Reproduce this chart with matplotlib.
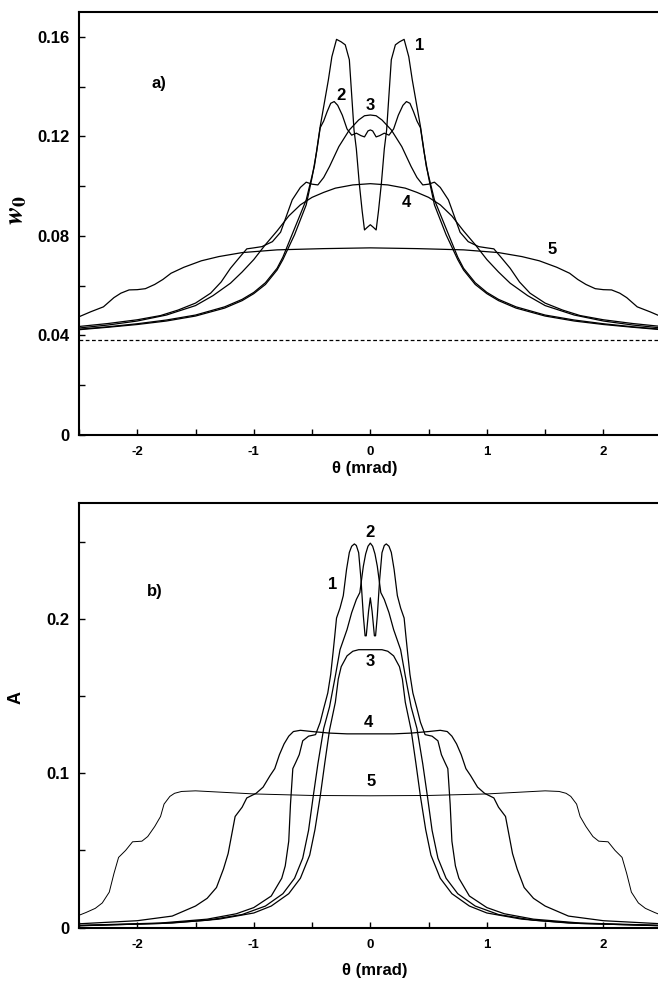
import matplotlib.pyplot as plt
from matplotlib.ticker import FuncFormatter, MultipleLocator

plt.rcParams["font.family"] = ["Liberation Sans", "DejaVu Sans"]
plt.rcParams["font.weight"] = "bold"
plt.rcParams["mathtext.fontset"] = "stix"
plt.rcParams["axes.unicode_minus"] = False

# panel a) : w0 versus theta (mrad)
theta_a1 = [-2.50, -2.25, -2.00, -1.75, -1.50, -1.25, -1.10, -1.00, -0.90, -0.80, -0.75, -0.65, -0.55, -0.48,
            -0.43, -0.40, -0.36, -0.33, -0.29, -0.25, -0.215, -0.18, -0.14, -0.12, -0.095, -0.07, -0.05, -0.025,
            0.0, 0.025, 0.05, 0.07, 0.095, 0.12, 0.14, 0.18, 0.215, 0.25, 0.29, 0.33, 0.36, 0.40, 0.43, 0.48,
            0.55, 0.65, 0.75, 0.80, 0.90, 1.00, 1.10, 1.25, 1.50, 1.75, 2.00, 2.25, 2.50]
w_a1 = [0.0425, 0.0435, 0.0447, 0.0462, 0.0482, 0.0515, 0.0545, 0.0573, 0.0612, 0.0670, 0.0715, 0.0830, 0.0945, 0.1080,
        0.1240, 0.1320, 0.1427, 0.1520, 0.1590, 0.1580, 0.1568, 0.1508, 0.1226, 0.1150, 0.1012, 0.0900, 0.0824, 0.0835,
        0.0845, 0.0835, 0.0824, 0.0900, 0.1012, 0.1150, 0.1226, 0.1508, 0.1568, 0.1580, 0.1590, 0.1520, 0.1427, 0.1320,
        0.1240, 0.1080, 0.0945, 0.0830, 0.0715, 0.0670, 0.0612, 0.0573, 0.0545, 0.0515, 0.0482, 0.0462, 0.0447, 0.0435,
        0.0425]

theta_a2 = [-2.50, -2.25, -2.00, -1.75, -1.50, -1.25, -1.10, -1.00, -0.90, -0.80, -0.75, -0.70, -0.65, -0.60, -0.55,
            -0.50, -0.46, -0.43, -0.40, -0.37, -0.34, -0.31, -0.28, -0.24, -0.20, -0.16, -0.12, -0.08, -0.05, -0.02,
            0.0, 0.02, 0.05, 0.08, 0.12, 0.16, 0.20, 0.24, 0.28, 0.31, 0.34, 0.37, 0.40, 0.43, 0.46, 0.50, 0.55,
            0.60, 0.65, 0.70, 0.75, 0.80, 0.90, 1.00, 1.10, 1.25, 1.50, 1.75, 2.00, 2.25, 2.50]
w_a2 = [0.0423, 0.0433, 0.0444, 0.0458, 0.0478, 0.0510, 0.0540, 0.0568, 0.0605, 0.0663, 0.0705, 0.0755, 0.0805, 0.0865,
        0.0925, 0.1035, 0.1140, 0.1235, 0.1262, 0.1300, 0.1333, 0.1340, 0.1325, 0.1285, 0.1230, 0.1205, 0.1213, 0.1203,
        0.1198, 0.1222, 0.1226, 0.1222, 0.1198, 0.1203, 0.1213, 0.1205, 0.1230, 0.1285, 0.1325, 0.1340, 0.1333, 0.1300,
        0.1262, 0.1235, 0.1140, 0.1035, 0.0925, 0.0865, 0.0805, 0.0755, 0.0705, 0.0663, 0.0605, 0.0568, 0.0540, 0.0510,
        0.0478, 0.0458, 0.0444, 0.0433, 0.0423]

theta_a3 = [-2.50, -2.25, -2.00, -1.80, -1.65, -1.50, -1.37, -1.28, -1.20, -1.12, -1.06, -1.00, -0.93, -0.84, -0.77,
            -0.72, -0.67, -0.60, -0.55, -0.50, -0.45, -0.40, -0.35, -0.27, -0.18, -0.10, -0.05, 0.0, 0.05, 0.10,
            0.18, 0.27, 0.35, 0.40, 0.45, 0.50, 0.55, 0.60, 0.67, 0.72, 0.77, 0.84, 0.93, 1.00, 1.06, 1.12, 1.20,
            1.28, 1.37, 1.50, 1.65, 1.80, 2.00, 2.25, 2.50]
w_a3 = [0.0436, 0.0448, 0.0463, 0.0480, 0.0502, 0.0530, 0.0570, 0.0615, 0.0670, 0.0715, 0.0748, 0.0752, 0.0757, 0.0777,
        0.0815, 0.0880, 0.0945, 0.0995, 0.1016, 0.1008, 0.1005, 0.1035, 0.1079, 0.1159, 0.1226, 0.1266, 0.1283, 0.1286,
        0.1283, 0.1266, 0.1226, 0.1159, 0.1079, 0.1035, 0.1005, 0.1008, 0.1016, 0.0995, 0.0945, 0.0880, 0.0815, 0.0777,
        0.0757, 0.0752, 0.0748, 0.0715, 0.0670, 0.0615, 0.0570, 0.0530, 0.0502, 0.0480, 0.0463, 0.0448, 0.0436]

theta_a4 = [-2.50, -2.25, -2.00, -1.75, -1.50, -1.35, -1.20, -1.10, -1.00, -0.90, -0.80, -0.70, -0.60, -0.50, -0.40,
            -0.30, -0.15, 0.0, 0.15, 0.30, 0.40, 0.50, 0.60, 0.70, 0.80, 0.90, 1.00, 1.10, 1.20, 1.35, 1.50, 1.75,
            2.00, 2.25, 2.50]
w_a4 = [0.0430, 0.0442, 0.0458, 0.0482, 0.0520, 0.0560, 0.0610, 0.0655, 0.0705, 0.0765, 0.0820, 0.0880, 0.0925, 0.0955,
        0.0975, 0.0992, 0.1005, 0.1010, 0.1005, 0.0992, 0.0975, 0.0955, 0.0925, 0.0880, 0.0820, 0.0765, 0.0705, 0.0655,
        0.0610, 0.0560, 0.0520, 0.0482, 0.0458, 0.0442, 0.0430]

theta_a5 = [-2.50, -2.40, -2.29, -2.20, -2.14, -2.07, -2.00, -1.93, -1.85, -1.78, -1.71, -1.60, -1.45, -1.30, -1.10,
            -0.80, -0.40, 0.0, 0.40, 0.80, 1.10, 1.30, 1.45, 1.60, 1.71, 1.78, 1.85, 1.93, 2.00, 2.07, 2.14, 2.20,
            2.29, 2.40, 2.50]
w_a5 = [0.0475, 0.0495, 0.0515, 0.0552, 0.0570, 0.0583, 0.0584, 0.0588, 0.0605, 0.0625, 0.0650, 0.0674, 0.0700, 0.0717,
        0.0733, 0.0744, 0.0749, 0.0752, 0.0749, 0.0744, 0.0733, 0.0717, 0.0700, 0.0674, 0.0650, 0.0625, 0.0605, 0.0588,
        0.0584, 0.0583, 0.0570, 0.0552, 0.0515, 0.0495, 0.0475]

w_baseline = 0.0382

# panel b) : A versus theta (mrad)
theta_b1 = [-2.500, -1.800, -1.400, -1.150, -1.000, -0.850, -0.760, -0.730, -0.700, -0.685, -0.665, -0.640, -0.610,
            -0.580, -0.530, -0.470, -0.430, -0.400, -0.365, -0.340, -0.320, -0.305, -0.290, -0.260, -0.232, -0.204,
            -0.180, -0.160, -0.137, -0.120, -0.100, -0.080, -0.060, -0.045, -0.035, -0.015, 0.000, 0.015, 0.035,
            0.045, 0.060, 0.080, 0.100, 0.120, 0.137, 0.160, 0.180, 0.204, 0.232, 0.260, 0.290, 0.305, 0.320, 0.340,
            0.365, 0.400, 0.430, 0.470, 0.530, 0.580, 0.610, 0.640, 0.665, 0.685, 0.700, 0.730, 0.760, 0.850, 1.000,
            1.150, 1.400, 1.800, 2.500]
a_b1 = [0.0015, 0.0030, 0.0055, 0.0090, 0.0130, 0.0205, 0.0320, 0.0400, 0.0560, 0.0800, 0.1030, 0.1070, 0.1120, 0.1210,
        0.1240, 0.1250, 0.1330, 0.1420, 0.1520, 0.1640, 0.1780, 0.1890, 0.2005, 0.2070, 0.2150, 0.2320, 0.2430, 0.2470,
        0.2485, 0.2475, 0.2428, 0.2255, 0.2020, 0.1890, 0.1890, 0.2050, 0.2136, 0.2050, 0.1890, 0.1890, 0.2020, 0.2255,
        0.2428, 0.2475, 0.2485, 0.2470, 0.2430, 0.2320, 0.2150, 0.2070, 0.2005, 0.1890, 0.1780, 0.1640, 0.1520, 0.1420,
        0.1330, 0.1250, 0.1240, 0.1210, 0.1120, 0.1070, 0.1030, 0.0800, 0.0560, 0.0400, 0.0320, 0.0205, 0.0130, 0.0090,
        0.0055, 0.0030, 0.0015]

theta_b2 = [-2.500, -1.800, -1.400, -1.100, -0.900, -0.750, -0.650, -0.580, -0.530, -0.490, -0.450, -0.400, -0.350,
            -0.300, -0.260, -0.200, -0.160, -0.120, -0.090, -0.060, -0.040, -0.020, 0.000, 0.020, 0.040, 0.060, 0.090,
            0.120, 0.160, 0.200, 0.260, 0.300, 0.350, 0.400, 0.450, 0.490, 0.530, 0.580, 0.650, 0.750, 0.900, 1.100,
            1.400, 1.800, 2.500]
a_b2 = [0.0013, 0.0027, 0.0048, 0.0085, 0.0140, 0.0220, 0.0320, 0.0450, 0.0630, 0.0850, 0.1060, 0.1290, 0.1430, 0.1630,
        0.1800, 0.1930, 0.2040, 0.2125, 0.2170, 0.2340, 0.2420, 0.2470, 0.2490, 0.2470, 0.2420, 0.2340, 0.2170, 0.2125,
        0.2040, 0.1930, 0.1800, 0.1630, 0.1430, 0.1290, 0.1060, 0.0850, 0.0630, 0.0450, 0.0320, 0.0220, 0.0140, 0.0085,
        0.0048, 0.0027, 0.0013]

theta_b3 = [-2.500, -1.700, -1.300, -1.000, -0.850, -0.700, -0.600, -0.520, -0.475, -0.430, -0.390, -0.350, -0.300,
            -0.275, -0.250, -0.200, -0.150, -0.100, 0.000, 0.100, 0.150, 0.200, 0.250, 0.275, 0.300, 0.350, 0.390,
            0.430, 0.475, 0.520, 0.600, 0.700, 0.850, 1.000, 1.300, 1.700, 2.500]
a_b3 = [0.0012, 0.0030, 0.0055, 0.0095, 0.0140, 0.0220, 0.0320, 0.0470, 0.0635, 0.0850, 0.1070, 0.1280, 0.1460, 0.1610,
        0.1690, 0.1760, 0.1790, 0.1800, 0.1800, 0.1800, 0.1790, 0.1760, 0.1690, 0.1610, 0.1460, 0.1280, 0.1070, 0.0850,
        0.0635, 0.0470, 0.0320, 0.0220, 0.0140, 0.0095, 0.0055, 0.0030, 0.0012]

theta_b4 = [-2.50, -2.00, -1.70, -1.50, -1.40, -1.32, -1.26, -1.22, -1.19, -1.16, -1.10, -1.06, -0.98, -0.92, -0.86,
            -0.82, -0.78, -0.74, -0.70, -0.66, -0.60, -0.50, -0.35, -0.20, 0.00, 0.20, 0.35, 0.50, 0.60, 0.66, 0.70,
            0.74, 0.78, 0.82, 0.86, 0.92, 0.98, 1.06, 1.10, 1.16, 1.19, 1.22, 1.26, 1.32, 1.40, 1.50, 1.70, 2.00, 2.50]
a_b4 = [0.0025, 0.0045, 0.0075, 0.0140, 0.0190, 0.0260, 0.0380, 0.0480, 0.0600, 0.0720, 0.0780, 0.0840, 0.0870, 0.0910,
        0.0985, 0.1030, 0.1120, 0.1190, 0.1240, 0.1270, 0.1278, 0.1270, 0.1260, 0.1255, 0.1255, 0.1255, 0.1260, 0.1270,
        0.1278, 0.1270, 0.1240, 0.1190, 0.1120, 0.1030, 0.0985, 0.0910, 0.0870, 0.0840, 0.0780, 0.0720, 0.0600, 0.0480,
        0.0380, 0.0260, 0.0190, 0.0140, 0.0075, 0.0045, 0.0025]

theta_b5 = [-2.50, -2.44, -2.36, -2.30, -2.24, -2.20, -2.16, -2.10, -2.04, -1.96, -1.91, -1.85, -1.80, -1.77, -1.72,
            -1.68, -1.62, -1.50, -1.30, -1.00, -0.50, 0.00, 0.50, 1.00, 1.30, 1.50, 1.62, 1.68, 1.72, 1.77, 1.80,
            1.85, 1.91, 1.96, 2.04, 2.10, 2.16, 2.20, 2.24, 2.30, 2.36, 2.44, 2.50]
a_b5 = [0.0080, 0.0098, 0.0125, 0.0160, 0.0230, 0.0350, 0.0455, 0.0500, 0.0556, 0.0560, 0.0590, 0.0655, 0.0720, 0.0800,
        0.0850, 0.0870, 0.0882, 0.0886, 0.0878, 0.0866, 0.0856, 0.0854, 0.0856, 0.0866, 0.0878, 0.0886, 0.0882, 0.0870,
        0.0850, 0.0800, 0.0720, 0.0655, 0.0590, 0.0560, 0.0556, 0.0500, 0.0455, 0.0350, 0.0230, 0.0160, 0.0125, 0.0098,
        0.0080]

# curve number labels: (text, theta, value)
labels_a = [("1", 0.42, 0.1565), ("2", -0.25, 0.1365), ("3", 0.0, 0.1325), ("4", 0.31, 0.0935), ("5", 1.56, 0.0745)]
labels_b = [("1", -0.32, 0.222), ("2", 0.0, 0.256), ("3", 0.0, 0.1725), ("4", -0.02, 0.133), ("5", 0.01, 0.0945)]


def style_axes(ax, ymax, ymajor, yminor):
    ax.set_xlim(-2.5, 2.5)
    ax.set_ylim(0, ymax)
    ax.xaxis.set_major_locator(MultipleLocator(1))
    ax.xaxis.set_minor_locator(MultipleLocator(0.5))
    ax.yaxis.set_major_locator(MultipleLocator(ymajor))
    ax.yaxis.set_minor_locator(MultipleLocator(yminor))
    ax.yaxis.set_major_formatter(FuncFormatter(lambda v, _: f"{v:g}"))
    ax.tick_params(which="both", direction="in", top=False, right=False, length=4.5, width=1)
    ax.tick_params(axis="y", labelsize=12, pad=7)
    ax.tick_params(axis="x", labelsize=9.5, pad=8)
    for side in ("left", "bottom", "top"):
        ax.spines[side].set_linewidth(1.5)
    ax.spines["right"].set_visible(False)


def main():
    fig = plt.figure(figsize=(6.58, 9.83), dpi=100)
    ax_a = fig.add_axes([0.12, 0.5575, 0.8856, 0.4303])
    ax_b = fig.add_axes([0.12, 0.0563, 0.8856, 0.4320])

    # top panel
    for t, w in [(theta_a1, w_a1), (theta_a2, w_a2), (theta_a3, w_a3), (theta_a4, w_a4), (theta_a5, w_a5)]:
        ax_a.plot(t, w, color="black", lw=0.9)
    ax_a.axhline(w_baseline, color="black", lw=0.9, ls=(0, (3, 2)))
    style_axes(ax_a, 0.17, 0.04, 0.02)
    for txt, x, y in labels_a:
        ax_a.text(x, y, txt, ha="center", va="center", fontsize=12, fontweight="bold")
    ax_a.text(-1.81, 0.1414, "a)", ha="center", va="center", fontsize=12, fontweight="bold")
    ax_a.set_xlabel("θ (mrad)", fontsize=12, fontweight="bold")
    ax_a.xaxis.set_label_coords(0.49, -0.062)
    ax_a.set_ylabel(r"$w_{\mathbf{0}}$", fontsize=20)
    ax_a.yaxis.set_label_coords(-0.085, 0.532)

    # bottom panel
    for t, a in [(theta_b1, a_b1), (theta_b2, a_b2), (theta_b3, a_b3), (theta_b4, a_b4)]:
        ax_b.plot(t, a, color="black", lw=0.9)
    ax_b.plot(theta_b5, a_b5, color="black", lw=0.7)
    style_axes(ax_b, 0.275, 0.1, 0.05)
    for txt, x, y in labels_b:
        ax_b.text(x, y, txt, ha="center", va="center", fontsize=12, fontweight="bold")
    ax_b.text(-1.85, 0.218, "b)", ha="center", va="center", fontsize=12, fontweight="bold")
    ax_b.set_xlabel("θ (mrad)", fontsize=12, fontweight="bold")
    ax_b.xaxis.set_label_coords(0.508, -0.083)
    ax_b.set_ylabel("A", fontsize=13, fontweight="bold")
    ax_b.yaxis.set_label_coords(-0.093, 0.543)

    fig.savefig("out.png", dpi=100)


if __name__ == "__main__":
    main()
